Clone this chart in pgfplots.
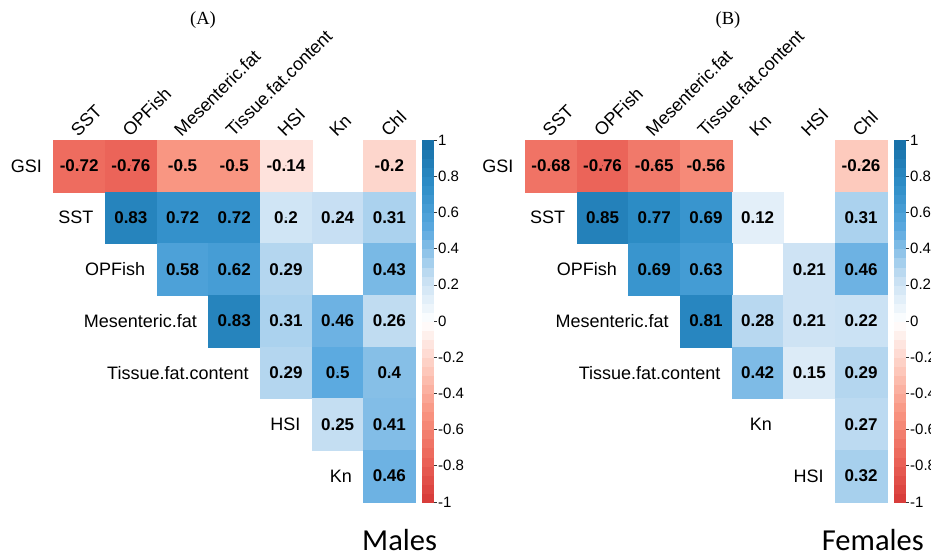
\documentclass[border=0pt]{standalone}
\usepackage{fontspec}
\setmainfont{Liberation Sans}
\newfontfamily\timesf{Liberation Serif}
\newfontfamily\calib{Carlito}
\usepackage{pgfplots}
\usepackage{pgfplotstable}
\pgfplotsset{compat=1.18}

\pgfplotstableread{
c r v
0 0 -0.72
1 0 -0.76
2 0 -0.5
3 0 -0.5
4 0 -0.14
6 0 -0.2
1 1 0.83
2 1 0.72
3 1 0.72
4 1 0.2
5 1 0.24
6 1 0.31
2 2 0.58
3 2 0.62
4 2 0.29
6 2 0.43
3 3 0.83
4 3 0.31
5 3 0.46
6 3 0.26
4 4 0.29
5 4 0.5
6 4 0.4
5 5 0.25
6 5 0.41
6 6 0.46
}\males

\pgfplotstableread{
c r v
0 0 -0.68
1 0 -0.76
2 0 -0.65
3 0 -0.56
6 0 -0.26
1 1 0.85
2 1 0.77
3 1 0.69
4 1 0.12
6 1 0.31
2 2 0.69
3 2 0.63
5 2 0.21
6 2 0.46
3 3 0.81
4 3 0.28
5 3 0.21
6 3 0.22
4 4 0.42
5 4 0.15
6 4 0.29
6 5 0.27
6 6 0.32
}\females

% colour-scale bands (midpoints of 40 steps from -1 to 1)
\pgfplotstableread{
y
-0.975
-0.925
-0.875
-0.825
-0.775
-0.725
-0.675
-0.625
-0.575
-0.525
-0.475
-0.425
-0.375
-0.325
-0.275
-0.225
-0.175
-0.125
-0.075
-0.025
0.025
0.075
0.125
0.175
0.225
0.275
0.325
0.375
0.425
0.475
0.525
0.575
0.625
0.675
0.725
0.775
0.825
0.875
0.925
0.975
}\scalebands

\pgfplotsset{
  colormap={corr}{rgb255=(214,56,56) rgb255=(236,102,90) rgb255=(249,150,130)
      rgb255=(253,204,192) rgb255=(255,255,255) rgb255=(196,222,242)
      rgb255=(92,170,224) rgb255=(46,142,200) rgb255=(22,110,165)},
  corrpanelx/.style={
    anchor=north west,
    x=51.7bp, y=51.7bp, y dir=reverse,
    xmin=-0.5, xmax=6.5, ymin=-0.5, ymax=6.5,
    point meta min=-1, point meta max=1,
    clip=false,
    axis line style={draw=none},
    major tick length=0pt,
    tick style={draw=none},
    ytick=\empty,
    xtick={0,...,6},
    xticklabel pos=upper,
    xticklabel style={rotate=45, anchor=south west, inner sep=1pt,
      font=\fontsize{18bp}{20bp}\selectfont, yshift=1bp},
  },
  scaleaxisx/.style={
    anchor=north west,
    x=11.5bp, y=180.95bp,
    xmin=0, xmax=1, ymin=-1, ymax=1,
    point meta min=-1, point meta max=1,
    axis on top,
    xtick=\empty,
    ytick={-1,-0.8,-0.6,-0.4,-0.2,0,0.2,0.4,0.6,0.8,1},
    yticklabels={-1,-0.8,-0.6,-0.4,-0.2,0,0.2,0.4,0.6,0.8,1},
    ytick pos=right, yticklabel pos=right,
    tick align=outside, major tick length=3bp,
    tick style={draw=black!80, line width=0.5pt},
    axis line style={draw=black!80, line width=0.6pt},
    yticklabel style={font=\fontsize{15bp}{16bp}\selectfont, inner sep=1.5pt},
  },
  corrcellsx/.style={
    scatter, only marks, mark=square*, mark size=25.85bp,
    point meta=\thisrow{v},
    scatter/use mapped color={draw=mapped color, fill=mapped color},
  },
  corrlabelsx/.style={
    only marks, mark=*, mark size=0.1pt,
    mark options={draw=none, fill=none},
    point meta=explicit symbolic,
    nodes near coords,
    every node near coord/.append style={anchor=center, text=black,
      font=\fontsize{17bp}{18bp}\selectfont\bfseries},
  },
  scalebandsx/.style={
    scatter, only marks, mark=square*, mark size=4.6bp,
    mark options={xscale=1.25},
    point meta=y,
    scatter/use mapped color={draw=mapped color, fill=mapped color},
  },
}

\begin{document}
\begin{tikzpicture}
\useasboundingbox (0,0) rectangle (931bp,555bp);

\begin{axis}[corrpanelx, at={(53.3bp,415bp)},
  xticklabels={SST,OPFish,Mesenteric.fat,Tissue.fat.content,HSI,Kn,Chl}]
  \addplot[corrcellsx] table[x=c, y=r] {\males};
  \addplot[corrlabelsx] table[x=c, y=r, meta=v] {\males};
  \begin{scope}[font=\fontsize{18bp}{20bp}\selectfont]
  \node[anchor=east] at ([xshift=-8bp]axis cs:-0.5,0) {GSI};
  \node[anchor=east] at ([xshift=-8bp]axis cs:0.5,1) {SST};
  \node[anchor=east] at ([xshift=-8bp]axis cs:1.5,2) {OPFish};
  \node[anchor=east] at ([xshift=-8bp]axis cs:2.5,3) {Mesenteric.fat};
  \node[anchor=east] at ([xshift=-8bp]axis cs:3.5,4) {Tissue.fat.content};
  \node[anchor=east] at ([xshift=-8bp]axis cs:4.5,5) {HSI};
  \node[anchor=east] at ([xshift=-8bp]axis cs:5.5,6) {Kn};
  \end{scope}
\end{axis}

\begin{axis}[corrpanelx, at={(525bp,415bp)},
  xticklabels={SST,OPFish,Mesenteric.fat,Tissue.fat.content,Kn,HSI,Chl}]
  \addplot[corrcellsx] table[x=c, y=r] {\females};
  \addplot[corrlabelsx] table[x=c, y=r, meta=v] {\females};
  \begin{scope}[font=\fontsize{18bp}{20bp}\selectfont]
  \node[anchor=east] at ([xshift=-8bp]axis cs:-0.5,0) {GSI};
  \node[anchor=east] at ([xshift=-8bp]axis cs:0.5,1) {SST};
  \node[anchor=east] at ([xshift=-8bp]axis cs:1.5,2) {OPFish};
  \node[anchor=east] at ([xshift=-8bp]axis cs:2.5,3) {Mesenteric.fat};
  \node[anchor=east] at ([xshift=-8bp]axis cs:3.5,4) {Tissue.fat.content};
  \node[anchor=east] at ([xshift=-8bp]axis cs:4.5,5) {Kn};
  \node[anchor=east] at ([xshift=-8bp]axis cs:5.5,6) {HSI};
  \end{scope}
\end{axis}

\begin{axis}[scaleaxisx, at={(422bp,415bp)}]
  \addplot[scalebandsx] table[x expr=0.5, y=y] {\scalebands};
\end{axis}
\begin{axis}[scaleaxisx, at={(894bp,415bp)}]
  \addplot[scalebandsx] table[x expr=0.5, y=y] {\scalebands};
\end{axis}

\node[font=\timesf\fontsize{18.5bp}{20bp}\selectfont] at (203bp,535bp) {(A)};
\node[font=\timesf\fontsize{18.5bp}{20bp}\selectfont] at (728bp,535bp) {(B)};
\node[anchor=base west, inner sep=0pt, font=\calib\fontsize{30.5bp}{32bp}\selectfont] at (362bp,5bp) {Males};
\node[anchor=base west, inner sep=0pt, font=\calib\fontsize{30.5bp}{32bp}\selectfont] at (821.7bp,5bp) {Females};
\end{tikzpicture}
\end{document}
